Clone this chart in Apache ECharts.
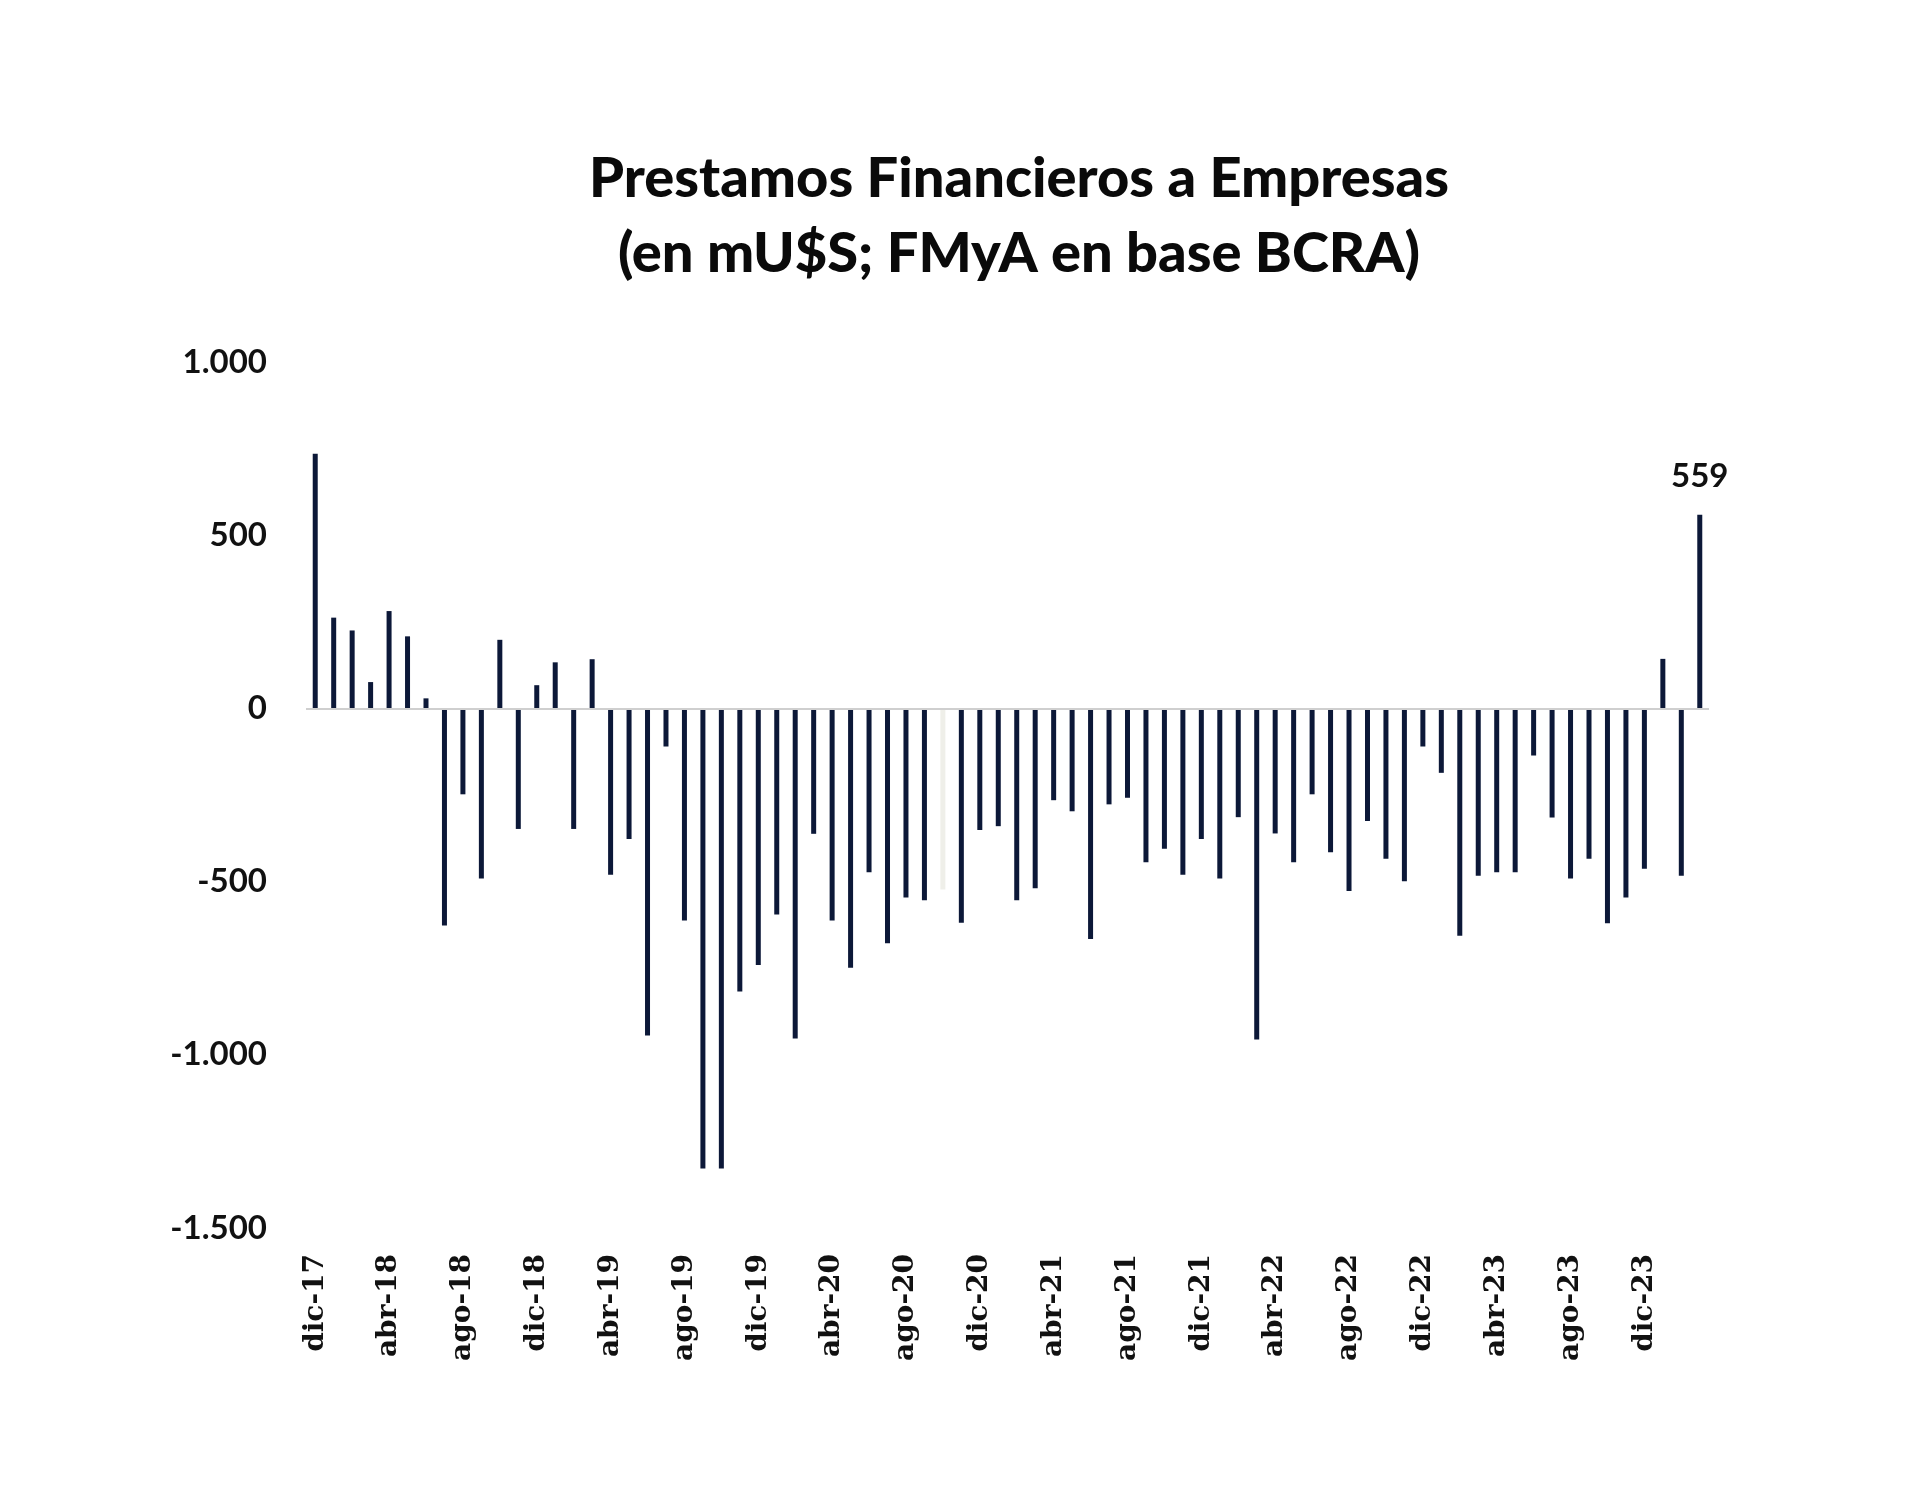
<!DOCTYPE html>
<html>
<head>
<meta charset="utf-8">
<title>Prestamos Financieros a Empresas</title>
<script src="https://cdn.jsdelivr.net/npm/echarts@6/dist/echarts.min.js"></script>
<style>
  html, body { margin: 0; padding: 0; background: #fff; }
  #chart { width: 1920px; height: 1502px; }
</style>
</head>
<body>
<div id="chart"></div>
<script>
// meses dic-17 .. mar-24
const monthNames = ['ene', 'feb', 'mar', 'abr', 'may', 'jun', 'jul', 'ago', 'sep', 'oct', 'nov', 'dic']
const months = ['dic-17']
for (let y = 18; y <= 24; y++) {
  for (let m = 0; m < 12; m++) {
    if (y === 24 && m > 2) break
    months.push(monthNames[m] + '-' + y)
  }
}

// flujo mensual, mU$S
const values = [
  735, 262, 225, 76, 281, 208, 29, -627, -248, -491, 198, -348,
  67, 133, -348, 142, -480, -377, -944, -110, -612, -1328, -1328, -817,
  -741, -595, -953, -362, -612, -749, -473, -678, -546, -554, -523, -619,
  -351, -340, -554, -519, -265, -297, -666, -277, -258, -444, -405, -480,
  -377, -491, -314, -956, -361, -444, -248, -415, -527, -325, -434, -499,
  -110, -186, -656, -483, -473, -473, -136, -315, -491, -434, -620, -546,
  -463, 143, -483, 559
]

// barra casi invisible en el original (oct-20)
const fadedMonths = ['oct-20']
const labeledMonths = ['mar-24']

const yTicks = [-1500, -1000, -500, 0, 500, 1000]

let myChart = echarts.init(document.getElementById('chart'))

let formatNumber = function (num) {
  let s = Math.abs(num).toString().replace(/(?=(\B)(\d{3})+$)/g, '.')
  return (num < 0 ? '-' : '') + s
}

let barData = values.map((v, i) => {
  let item = { value: v }
  if (fadedMonths.includes(months[i])) {
    item.itemStyle = { color: '#efefe9' }
  }
  if (labeledMonths.includes(months[i])) {
    item.label = {
      show: true,
      position: 'top',
      distance: 22,
      formatter: (p) => formatNumber(p.value),
      fontFamily: 'Lato',
      fontWeight: 'bold',
      fontSize: 33,
      color: '#111'
    }
  }
  return item
})

let titleStyle = { fontFamily: 'Lato', fontWeight: 900, fontSize: 56, color: '#0a0a0a' }

let option = {
  backgroundColor: '#fff',
  animation: false,
  title: [
    {
      text: 'Prestamos Financieros a Empresas',
      left: 1014,
      top: 146,
      textAlign: 'center',
      textStyle: titleStyle
    },
    {
      text: '(en mU$S; FMyA en base BCRA)',
      left: 1014,
      top: 221,
      textAlign: 'center',
      textStyle: titleStyle
    }
  ],
  grid: {
    left: 306,
    width: 1403,
    top: 362,
    height: 866,
    containLabel: false
  },
  xAxis: {
    type: 'category',
    data: months,
    boundaryGap: true,
    axisLine: { show: false, onZero: false },
    axisTick: { show: false },
    axisLabel: {
      interval: 3,
      rotate: 90,
      margin: 26,
      fontFamily: 'DejaVu Serif',
      fontWeight: 'bold',
      fontSize: 28,
      color: '#111'
    }
  },
  yAxis: {
    type: 'value',
    min: yTicks[0],
    max: yTicks[yTicks.length - 1],
    interval: 500,
    axisLine: { show: false },
    axisTick: { show: false },
    splitLine: { show: false },
    axisLabel: {
      margin: 39,
      fontFamily: 'Lato',
      fontWeight: 'bold',
      fontSize: 33,
      color: '#111',
      formatter: (v) => formatNumber(v)
    }
  },
  series: [
    {
      type: 'bar',
      data: barData,
      barWidth: 5,
      itemStyle: { color: '#0c1838' },
      markLine: {
        silent: true,
        symbol: 'none',
        label: { show: false },
        lineStyle: { color: '#cfcfcf', width: 2, type: 'solid' },
        data: [{ yAxis: 0 }]
      }
    }
  ]
}
myChart.setOption(option)
window.addEventListener('resize', () => {
  myChart.resize()
})
</script>
</body>
</html>
